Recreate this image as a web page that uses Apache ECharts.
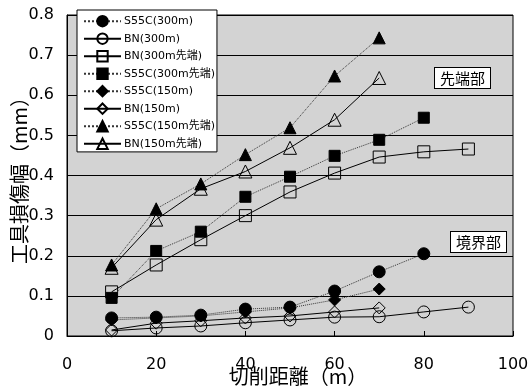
<!DOCTYPE html>
<html><head><meta charset="utf-8">
<script src="https://cdn.jsdelivr.net/npm/echarts@6/dist/echarts.min.js"></script>
<style>html,body{margin:0;padding:0;background:#fff}#c{width:530px;height:391px}</style>
</head><body><div id="c"></div>
<script>
const seriesNames = ['S55C(300m)','BN(300m)','BN(300m先端)','S55C(300m先端)','S55C(150m)','BN(150m)','S55C(150m先端)','BN(150m先端)'];
const xS55C300 = [10,20,30,40,50,60,70,80];
const yS55C300 = [0.045,0.047,0.052,0.067,0.072,0.112,0.16,0.205];
const xBN300 = [10,20,30,40,50,60,70,80,90];
const yBN300 = [0.013,0.02,0.025,0.033,0.04,0.047,0.048,0.06,0.072];
const xBN300tip = [10,20,30,40,50,60,70,80,90];
const yBN300tip = [0.11,0.177,0.24,0.30,0.359,0.406,0.446,0.459,0.466];
const xS55C300tip = [10,20,30,40,50,60,70,80];
const yS55C300tip = [0.095,0.212,0.26,0.347,0.397,0.449,0.489,0.544];
const xS55C150 = [10,20,30,40,50,60,70];
const yS55C150 = [0.04,0.045,0.05,0.06,0.07,0.09,0.117];
const xBN150 = [10,20,30,40,50,60,70];
const yBN150 = [0.015,0.032,0.038,0.045,0.05,0.06,0.07];
const xS55C150tip = [10,20,30,40,50,60,70];
const yS55C150tip = [0.177,0.317,0.379,0.452,0.519,0.648,0.743];
const xBN150tip = [10,20,30,40,50,60,70];
const yBN150tip = [0.17,0.29,0.367,0.41,0.469,0.539,0.643];
const xTicks = [0,20,40,60,80,100];
const yTicks = [0,0.1,0.2,0.3,0.4,0.5,0.6,0.7,0.8];
const xName = '切削距離（m）';
const yName = '工具損傷幅（mm）';
const notes = ['先端部','境界部'];

const FONT = '"DejaVu Sans","Noto Sans CJK JP",sans-serif';
const CJK = '"Noto Sans CJK JP","DejaVu Sans",sans-serif';
function pair(xs, ys){ return xs.map((x,i)=>[x, ys[i]]); }
const defs = [
  {d:pair(xS55C300,yS55C300), sym:'circle', fill:true, dash:'dotted', size:12},
  {d:pair(xBN300,yBN300), sym:'circle', fill:false, dash:'solid', size:12},
  {d:pair(xBN300tip,yBN300tip), sym:'rect', fill:false, dash:'solid', size:12},
  {d:pair(xS55C300tip,yS55C300tip), sym:'rect', fill:true, dash:'dotted', size:11},
  {d:pair(xS55C150,yS55C150), sym:'diamond', fill:true, dash:'dotted', size:12},
  {d:pair(xBN150,yBN150), sym:'diamond', fill:false, dash:'solid', size:12},
  {d:pair(xS55C150tip,yS55C150tip), sym:'triangle', fill:true, dash:'dotted', size:12},
  {d:pair(xBN150tip,yBN150tip), sym:'triangle', fill:false, dash:'solid', size:13}
];
const series = defs.map((s,i)=>({
  name: seriesNames[i], type:'line', data:s.d, symbol:s.sym, symbolSize:s.size,
  showAllSymbol:true, animation:false, z: 3+i,
  lineStyle:{color: s.dash==='dotted' ? '#333' : '#000', width:1, type:s.dash},
  itemStyle:{color: s.fill ? '#000' : 'rgba(0,0,0,0)', borderColor:'#000', borderWidth:1}
}));
const chart = echarts.init(document.getElementById('c'), null, {renderer:'canvas'});
chart.setOption({
  animation:false,
  textStyle:{fontFamily:FONT},
  grid:{left:67, right:17, top:15, bottom:55, show:true, containLabel:false, outerBoundsMode:'none',
    backgroundColor:'#d3d3d3', borderColor:'#000', borderWidth:1},
  xAxis:{type:'value', min:xTicks[0], max:xTicks[xTicks.length-1], interval:20,
    axisLine:{lineStyle:{color:'#000'}}, axisTick:{show:true, inside:true, length:5, lineStyle:{color:'#000'}},
    splitLine:{show:false},
    axisLabel:{color:'#000', fontSize:16, margin:21, fontFamily:FONT},
    name:xName, nameLocation:'middle', nameGap:30, nameMoveOverlap:false,
    nameTextStyle:{color:'#000', fontSize:20, fontFamily:CJK, padding:[0,0,0,16]}},
  yAxis:{type:'value', min:yTicks[0], max:yTicks[yTicks.length-1], interval:0.1,
    axisLine:{show:true, lineStyle:{color:'#000'}}, axisTick:{show:false},
    splitLine:{show:true, lineStyle:{color:'#000', width:1}},
    axisLabel:{color:'#000', fontSize:16, margin:13, fontFamily:FONT, formatter:v=> v===0?'0':v.toFixed(1)},
    name:yName, nameLocation:'middle', nameGap:38, nameMoveOverlap:false,
    nameTextStyle:{color:'#000', fontSize:20, fontFamily:CJK}},
  legend:{orient:'vertical', left:77, top:10, data:seriesNames,
    backgroundColor:'#fff', borderColor:'#000', borderWidth:1, padding:[5,2,2,6],
    itemWidth:37, itemHeight:13, itemGap:5.1,
    textStyle:{color:'#000', fontSize:11, fontFamily:FONT, padding:[0,0,0,-2]}},
  graphic:[
    {type:'text', left:434, top:67, z:100, style:{text:notes[0], fill:'#000', font:'15px '+CJK,
      backgroundColor:'#fff', borderColor:'#000', borderWidth:1, padding:[3,5,2,5]}},
    {type:'text', left:450, top:231, z:100, style:{text:notes[1], fill:'#000', font:'15px '+CJK,
      backgroundColor:'#fff', borderColor:'#000', borderWidth:1, padding:[3,5,2,5]}}
  ],
  series: series
});
</script></body></html>
